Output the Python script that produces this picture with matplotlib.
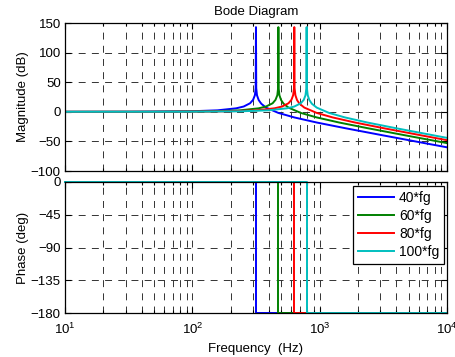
import matplotlib
matplotlib.use("Agg")
import matplotlib.pyplot as plt
from matplotlib.ticker import LogLocator, FixedLocator, NullFormatter

plt.rcParams['font.family'] = ['Liberation Sans', 'DejaVu Sans']
plt.rcParams['mathtext.fontset'] = 'custom'
plt.rcParams['mathtext.rm'] = 'Liberation Sans'
plt.rcParams['mathtext.it'] = 'Liberation Sans:italic'
plt.rcParams['lines.scale_dashes'] = False

# ---- data -------------------------------------------------------------
labels = ['40*fg', '60*fg', '80*fg', '100*fg']
colors = ['#0000ff', '#008000', '#ff0000', '#00bfbf']

# resonance frequencies (Hz)
f_res = [316, 474, 632, 790]

freq_40 = [10, 31.6, 94.8, 158, 221, 253, 284, 300, 310, 314.4, 316, 317.6,
           322, 332, 348, 379, 474, 632, 948, 1580, 3160, 6320, 10000]
mag_40 = [0.0, 0.1, 0.8, 2.5, 5.9, 8.9, 14.4, 20.2, 28.0, 40.0, 143, 40.0,
          27.9, 19.8, 13.6, 7.1, -1.9, -9.5, -18.1, -27.6, -39.9, -52.0, -60.0]

freq_60 = [10, 47.4, 142, 237, 332, 379, 427, 450, 465, 471.6, 474, 476.4,
           483, 498, 521, 569, 711, 948, 1422, 2370, 4740, 10000]
mag_60 = [0.0, 0.1, 0.8, 2.5, 5.9, 8.9, 14.4, 20.2, 28.0, 40.0, 143, 40.0,
          27.9, 19.8, 13.6, 7.1, -1.9, -9.5, -18.1, -27.6, -39.9, -52.9]

freq_80 = [10, 63.2, 190, 316, 442, 506, 569, 600, 619, 628.8, 632, 635.2,
           645, 664, 695, 758, 948, 1264, 1896, 3160, 6320, 10000]
mag_80 = [0.0, 0.1, 0.8, 2.5, 5.9, 8.9, 14.4, 20.2, 28.0, 40.0, 143, 40.0,
          27.9, 19.8, 13.6, 7.1, -1.9, -9.5, -18.1, -27.6, -39.9, -47.9]

freq_100 = [10, 79, 237, 395, 553, 632, 711, 750, 774, 786, 790, 794,
            806, 830, 869, 948, 1185, 1580, 2370, 3950, 7900, 10000]
mag_100 = [0.0, 0.1, 0.8, 2.5, 5.9, 8.9, 14.4, 20.2, 28.0, 40.0, 143, 40.0,
           27.9, 19.8, 13.6, 7.1, -1.9, -9.5, -18.1, -27.6, -39.9, -44.0]

freqs = [freq_40, freq_60, freq_80, freq_100]
mags = [mag_40, mag_60, mag_80, mag_100]

f_min, f_max = 10, 10000
phase_low, phase_high = 0, -180

mag_ticks = [-100, -50, 0, 50, 100, 150]
phase_ticks = [0, -45, -90, -135, -180]

# ---- figure -----------------------------------------------------------
W, H = 456, 357
fig = plt.figure(figsize=(W / 100, H / 100), dpi=100)

def frac(x0, y0, x1, y1):
    return [x0 / W, 1 - y1 / H, (x1 - x0) / W, (y1 - y0) / H]

ax_m = fig.add_axes(frac(65, 23, 447, 171))
ax_p = fig.add_axes(frac(65, 182, 447, 313))

FS = 9.5
grid_kw = dict(color='#333333', linewidth=0.7, linestyle=(0, (5, 4.5)))

for ax in (ax_m, ax_p):
    ax.set_xscale('log')
    ax.set_xlim(f_min, f_max)
    ax.xaxis.set_major_locator(LogLocator(base=10, numticks=10))
    ax.xaxis.set_minor_locator(LogLocator(base=10, subs=range(2, 10), numticks=10))
    ax.xaxis.set_minor_formatter(NullFormatter())
    ax.tick_params(which='both', direction='in', top=True, right=True,
                   labelsize=FS, pad=3, width=0.8)
    ax.tick_params(axis='x', which='both', pad=6)
    ax.tick_params(which='major', length=4)
    ax.tick_params(which='minor', length=2.5)
    ax.grid(True, which='major', axis='both', **grid_kw)
    ax.grid(True, which='minor', axis='x', **grid_kw)
    for s in ax.spines.values():
        s.set_linewidth(0.9)
    ax.set_axisbelow(True)

# magnitude
for f, m, c, lab in zip(freqs, mags, colors, labels):
    ax_m.plot(f, m, color=c, linewidth=1.4, label=lab)
ax_m.set_ylim(-100, 150)
ax_m.yaxis.set_major_locator(FixedLocator(mag_ticks))
ax_m.set_xticklabels([])
ax_m.set_ylabel('Magnitude (dB)', fontsize=FS, labelpad=1)
ax_m.set_title('Bode Diagram', fontsize=FS, pad=6)

# phase
for f0, c, lab in zip(f_res, colors, labels):
    ax_p.plot([f_min, f0, f0, f_max],
              [phase_low, phase_low, phase_high, phase_high],
              color=c, linewidth=1.4, label=lab, clip_on=False)
ax_p.set_ylim(-180, 0)
ax_p.yaxis.set_major_locator(FixedLocator(phase_ticks))
ax_p.set_ylabel('Phase (deg)', fontsize=FS, labelpad=1)
ax_p.set_xlabel('Frequency  (Hz)', fontsize=FS, labelpad=5)

leg = ax_p.legend(loc='upper right', bbox_to_anchor=(1 - 3 / 382, 1 - 4 / 131),
                  borderaxespad=0, fontsize=FS + 0.5, fancybox=False,
                  framealpha=1, edgecolor='black', handlelength=2.6,
                  handletextpad=0.35, labelspacing=0.3, borderpad=0.35)
leg.get_frame().set_linewidth(0.9)

fig.savefig('out.png', dpi=100)
